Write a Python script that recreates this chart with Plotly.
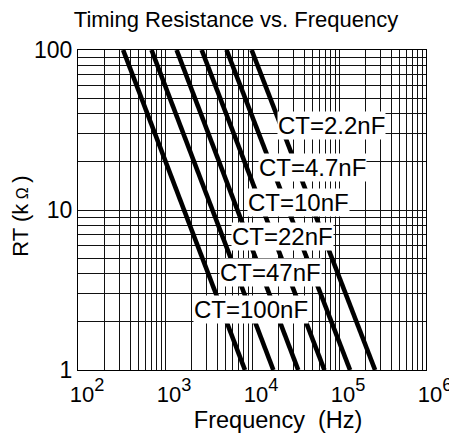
import plotly.graph_objects as go

# Data
capacitors = ["2.2nF", "4.7nF", "10nF", "22nF", "47nF", "100nF"]
freq_at_100k = [9900, 5100, 2640, 1360, 700, 330]        # Hz where RT = 100 kOhm
freq_at_1k = [260000, 134000, 68000, 34000, 17600, 8300]  # Hz where RT = 1 kOhm
rt_ends = [100, 1]                                        # kOhm

# label anchor positions (log10 Hz, log10 kOhm)
label_logf = [4.908, 4.695, 4.529, 4.351, 4.207, 3.994]
label_logr = [1.530, 1.268, 1.046, 0.837, 0.609, 0.380]

x_tickvals = [1e2, 1e3, 1e4, 1e5, 1e6]
x_exponents = ["2", "3", "4", "5", "6"]
y_tickvals = [1, 10, 100]
y_ticktext = ["1", "10", "100"]

FONT = "Liberation Sans, Arial, sans-serif"

fig = go.Figure()
for name, f1, f2 in zip(capacitors, freq_at_100k, freq_at_1k):
    fig.add_trace(go.Scatter(
        x=[f1, f2], y=rt_ends, mode="lines", name="CT=" + name,
        line=dict(color="black", width=4.6), showlegend=False,
        hoverinfo="skip",
    ))

for name, lx, ly in zip(capacitors, label_logf, label_logr):
    fig.add_annotation(
        x=lx, y=ly, xref="x", yref="y", text="CT=" + name,
        showarrow=False, bgcolor="white", borderpad=0,
        font=dict(family=FONT, size=24, color="black"),
        xanchor="center", yanchor="middle",
    )

x_ticktext = ["<span style='font-size:22px'>10</span><sup>%s</sup>" % e for e in x_exponents]

fig.update_xaxes(
    type="log", range=[2, 6], automargin=False,
    tickvals=x_tickvals, ticktext=x_ticktext,
    ticks="", ticklabelshift=9,
    tickfont=dict(family=FONT, size=26, color="black"),
    showgrid=True, gridcolor="#111111", gridwidth=1,
    minor=dict(dtick="D1", showgrid=True, gridcolor="#111111", gridwidth=1, ticks=""),
    showline=True, mirror=True, linecolor="black", linewidth=1,
    zeroline=False,
    title=dict(text="&nbsp;&nbsp;&nbsp;&nbsp;&nbsp;&nbsp;&nbsp;&nbsp;Frequency&nbsp; (Hz)",
               font=dict(family=FONT, size=23.5, color="black"), standoff=0),
)
fig.update_yaxes(
    type="log", range=[0, 2], automargin=False,
    tickvals=y_tickvals, ticktext=y_ticktext,
    ticks="",
    tickfont=dict(family=FONT, size=23, color="black"),
    showgrid=True, gridcolor="#111111", gridwidth=1,
    minor=dict(dtick="D1", showgrid=True, gridcolor="#111111", gridwidth=1, ticks=""),
    showline=True, mirror=True, linecolor="black", linewidth=1,
    zeroline=False,
    title=dict(text="RT (k<span style='font-size:16px'> Ω </span>)&nbsp;&nbsp;",
               font=dict(family=FONT, size=22, color="black"), standoff=0),
)

# the page adds an 8px body margin, so the figure is 8px smaller and offset
fig.update_layout(
    width=449, height=427,
    margin=dict(l=70, r=31, t=42, b=65, autoexpand=False),
    paper_bgcolor="white", plot_bgcolor="white",
    title=dict(text="Timing Resistance vs. Frequency", x=0.454, xref="paper",
               xanchor="center", y=1 - 11 / 427, yref="container", yanchor="middle",
               font=dict(family=FONT, size=22, color="black")),
)

fig.write_html("out.html")
